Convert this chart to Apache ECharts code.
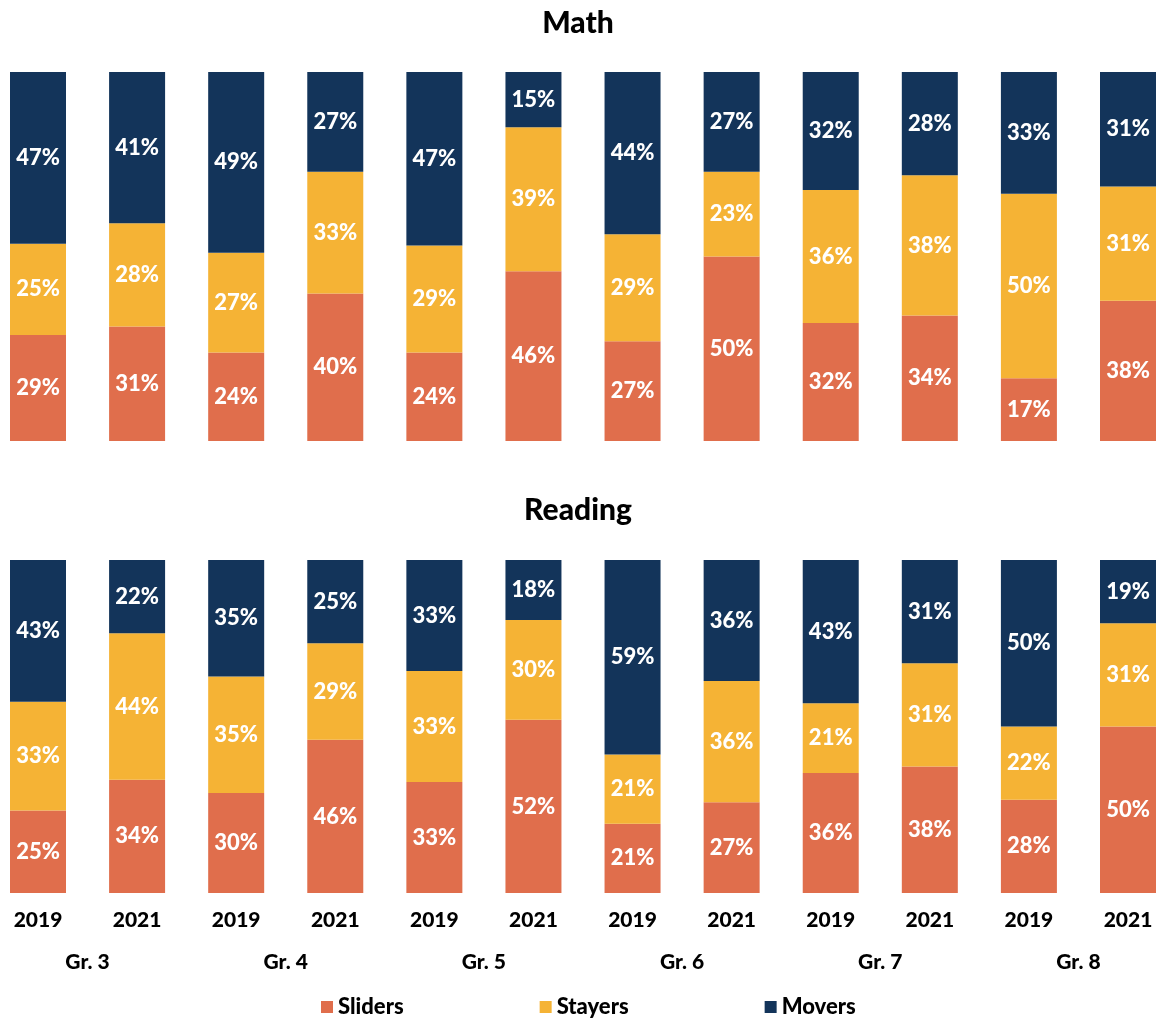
<!DOCTYPE html>
<html>
<head>
<meta charset="utf-8">
<script src="https://cdn.jsdelivr.net/npm/echarts@6/dist/echarts.min.js"></script>
<style>html,body{margin:0;padding:0;background:#fff}#c{width:1156px;height:1023px}</style>
</head>
<body>
<div id="c"></div>
<script>
const years = ['2019','2021','2019','2021','2019','2021','2019','2021','2019','2021','2019','2021'];
const grades = ['Gr. 3','','Gr. 4','','Gr. 5','','Gr. 6','','Gr. 7','','Gr. 8',''];
const mathSliders = [29,31,24,40,24,46,27,50,32,34,17,38];
const mathStayers = [25,28,27,33,29,39,29,23,36,38,50,31];
const mathMovers  = [47,41,49,27,47,15,44,27,32,28,33,31];
const readSliders = [25,34,30,46,33,52,21,27,36,38,28,50];
const readStayers = [33,44,35,29,33,30,21,36,21,31,22,31];
const readMovers  = [43,22,35,25,33,18,59,36,43,31,50,19];

const C = {Sliders:'#E06E4C', Stayers:'#F5B335', Movers:'#13345A'};
const FONT = 'Lato';

function norm(arrs, k){
  return arrs[k].map((v,i)=>{
    const s = arrs.reduce((a,arr)=>a+arr[i],0);
    return {value: v/s*100, raw: v};
  });
}
function mk(name, arrs, k, gi){
  return {
    name, type:'bar', stack:'s'+gi, xAxisIndex: gi*2, yAxisIndex: gi,
    barWidth: 56, clip:false, data: norm(arrs,k),
    itemStyle:{color:C[name]},
    label:{show:true, position:'inside', color:'#fff', fontFamily:FONT, fontWeight:900, fontSize:22,
      formatter:p=>p.data.raw+'%'}
  };
}
const mathArr=[mathSliders,mathStayers,mathMovers];
const readArr=[readSliders,readStayers,readMovers];
const names=['Sliders','Stayers','Movers'];
const series=[];
names.forEach((n,k)=>series.push(mk(n,mathArr,k,0)));
names.forEach((n,k)=>series.push(mk(n,readArr,k,1)));

const gridL=38, gridR=28;
const hidden = {axisLine:{show:false},axisTick:{show:false},splitLine:{show:false}};
const option = {
  animation:false,
  title:[
    {text:'Math', left:'center', top:3, textStyle:{fontFamily:FONT,fontWeight:900,fontSize:30,color:'#000'}},
    {text:'Reading', left:'center', top:490, textStyle:{fontFamily:FONT,fontWeight:900,fontSize:30,color:'#000'}}
  ],
  legend:{data:names, left:321, top:996, padding:0, itemWidth:12, itemHeight:12, itemGap:136, icon:'rect',
    textStyle:{fontFamily:FONT,fontWeight:900,fontSize:22,color:'#000'}},
  grid:[
    {left:gridL, right:gridR, top:72, height:369},
    {left:gridL, right:gridR, top:560, height:333}
  ],
  xAxis:[
    Object.assign({type:'category', gridIndex:0, boundaryGap:false, data:years, axisLabel:{show:false}}, hidden),
    Object.assign({type:'category', gridIndex:0, boundaryGap:false, data:grades, axisLabel:{show:false}}, hidden),
    Object.assign({type:'category', gridIndex:1, boundaryGap:false, data:years, position:'bottom',
      axisLabel:{interval:0, margin:17, fontFamily:FONT, fontWeight:900, fontSize:21, color:'#000'}}, hidden),
    Object.assign({type:'category', gridIndex:1, boundaryGap:false, data:grades, position:'bottom', offset:42,
      axisLabel:{interval:0, margin:17, padding:[0,0,0,99], fontFamily:FONT, fontWeight:900, fontSize:21, color:'#000'}}, hidden)
  ],
  yAxis:[
    Object.assign({type:'value', gridIndex:0, min:0, max:100, show:false}, hidden),
    Object.assign({type:'value', gridIndex:1, min:0, max:100, show:false}, hidden)
  ],
  series
};
const chart = echarts.init(document.getElementById('c'));
chart.setOption(option);
</script>
</body>
</html>
